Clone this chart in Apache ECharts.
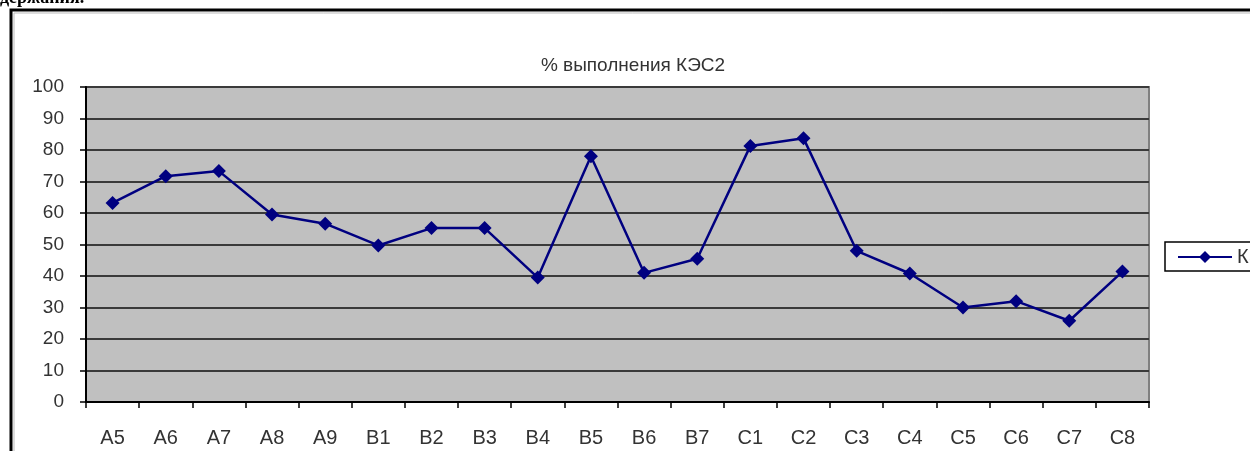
<!DOCTYPE html>
<html><head><meta charset="utf-8">
<script src="https://cdn.jsdelivr.net/npm/echarts@6/dist/echarts.min.js"></script>
<style>html,body{margin:0;padding:0;background:#fff;overflow:hidden}#c{width:1250px;height:451px}</style>
</head><body><div id="c"></div>
<script>
const categories = ['A5','A6','A7','A8','A9','B1','B2','B3','B4','B5','B6','B7','C1','C2','C3','C4','C5','C6','C7','C8'];
const values = [63.2, 71.7, 73.3, 59.5, 56.6, 49.7, 55.2, 55.2, 39.5, 78.0, 41.0, 45.5, 81.3, 83.7, 48.0, 40.8, 30.0, 32.0, 25.8, 41.4];
const seriesName = 'КЭС2';
const titleText = '% выполнения КЭС2';

const chart = echarts.init(document.getElementById('c'), null, {renderer:'canvas'});
chart.setOption({
  animation: false,
  backgroundColor: '#fff',
  graphic: [
    {type:'text', left: 0, top: -11, style:{text:'держания.', font:'bold 18px "Liberation Serif"', fill:'#000'}},
    {type:'rect', shape:{x:11, y:10, width:1400, height:600}, style:{fill:'#fff', stroke:'#000', lineWidth:3}, z:-10},
    {type:'rect', shape:{x:14, y:13, width:1400, height:600}, style:{fill:'none', stroke:'#bbb', lineWidth:1}, z:-9}
  ],
  title: {
    text: titleText, left: 628, top: 51, textAlign: 'center',
    textStyle: {fontFamily: 'Liberation Sans, Arial', fontSize: 19, fontWeight: 'normal', color: '#333'}
  },
  legend: {
    left: 1165, top: 242, itemWidth: 54, itemHeight: 15, itemGap: 0,
    padding: [5, 6, 4, 12],
    borderColor: '#000', borderWidth: 1.5, backgroundColor: '#fff',
    textStyle: {fontFamily: 'Liberation Sans, Arial', fontSize: 20, color: '#333'},
    data: [seriesName]
  },
  grid: {left: 86, right: 101, top: 87, bottom: 49, show: true, backgroundColor: '#c0c0c0', borderColor: '#808080', borderWidth: 2},
  xAxis: {
    type: 'category', data: categories, boundaryGap: true,
    axisLine: {lineStyle: {color: '#000', width: 2}},
    axisTick: {show: true, length: 6, inside: false, lineStyle: {color: '#000', width: 1.5}},
    axisLabel: {margin: 26, fontFamily: 'Liberation Sans, Arial', fontSize: 20, color: '#333'}
  },
  yAxis: {
    type: 'value', min: 0, max: 100, interval: 10,
    axisLine: {show: true, lineStyle: {color: '#000', width: 2}},
    axisTick: {show: true, length: 6, lineStyle: {color: '#000', width: 1.5}},
    axisLabel: {margin: 22, fontFamily: 'Liberation Sans, Arial', fontSize: 19, color: '#333'},
    splitLine: {show: true, lineStyle: {color: '#3a3a3a', width: 2}}
  },
  series: [{
    name: seriesName, type: 'line', data: values,
    symbol: 'diamond', symbolSize: 14,
    lineStyle: {color: '#000080', width: 2.5},
    itemStyle: {color: '#000080'}
  }]
});
</script></body></html>
